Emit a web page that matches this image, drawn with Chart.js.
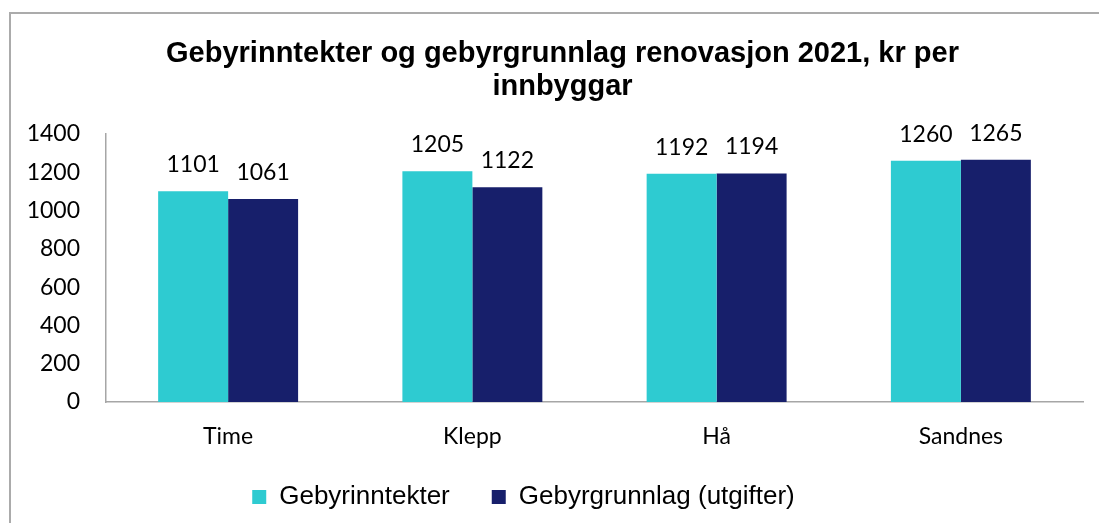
<!DOCTYPE html>
<html>
<head>
<meta charset="utf-8">
<script src="https://cdn.jsdelivr.net/npm/chart.js@4/dist/chart.umd.min.js"></script>
<style>
html,body{margin:0;padding:0;background:#fff;}
canvas{display:block;}
</style>
</head>
<body>
<canvas id="c" width="1099" height="523"></canvas>
<script>
const categories = ['Time', 'Klepp', 'Hå', 'Sandnes'];
const seriesNames = ['Gebyrinntekter', 'Gebyrgrunnlag (utgifter)'];
const gebyrinntekter = [1101, 1205, 1192, 1260];
const gebyrgrunnlag = [1061, 1122, 1194, 1265];
const titleLines = ['Gebyrinntekter og gebyrgrunnlag renovasjon 2021, kr per', 'innbyggar'];
const yMin = 0, yMax = 1400, yStep = 200;

const TEAL = '#2ECBD1';
const NAVY = '#171F6B';
const AXIS = '#A6A6A6';
const numFont = 'Lato, "Open Sans", sans-serif';
const arialFont = '"Liberation Sans", Arial, sans-serif';

const framePlugin = {
  id: 'frame',
  beforeDraw(chart) {
    const ctx = chart.ctx;
    ctx.save();
    ctx.fillStyle = '#fff';
    ctx.fillRect(0, 0, chart.width, chart.height);
    ctx.strokeStyle = '#ABABAB';
    ctx.lineWidth = 2;
    ctx.strokeRect(10, 13, 1200, 700);
    ctx.restore();
  },
  afterLayout(chart) {
    if (chart.legend) {
      chart.legend.left -= 18;
      chart.legend.right -= 18;
    }
    if (chart.titleBlock) {
      chart.titleBlock.left += 21;
      chart.titleBlock.right += 21;
    }
    if (chart.scales.x) {
      chart.scales.x.bottom = chart.height;
    }
  }
};

const valueLabels = {
  id: 'valueLabels',
  afterDatasetsDraw(chart) {
    const ctx = chart.ctx;
    ctx.save();
    ctx.font = '23px ' + numFont;
    ctx.fillStyle = '#000';
    ctx.textAlign = 'center';
    ctx.textBaseline = 'alphabetic';
    chart.data.datasets.forEach((ds, di) => {
      const meta = chart.getDatasetMeta(di);
      meta.data.forEach((el, i) => {
        ctx.fillText(String(ds.data[i]), el.x, el.y - 19);
      });
    });
    ctx.restore();
  }
};

new Chart(document.getElementById('c'), {
  type: 'bar',
  data: {
    labels: categories,
    datasets: [
      { label: seriesNames[0], data: gebyrinntekter, backgroundColor: TEAL, borderWidth: 0 },
      { label: seriesNames[1], data: gebyrgrunnlag, backgroundColor: NAVY, borderWidth: 0 }
    ]
  },
  options: {
    responsive: false,
    animation: false,
    devicePixelRatio: 1,
    categoryPercentage: 0.573,
    barPercentage: 1.0,
    layout: { padding: { left: 0, right: 16, top: 0, bottom: 3 } },
    plugins: {
      title: {
        display: true,
        text: titleLines,
        color: '#000',
        font: { family: arialFont, size: 29, weight: 'bold', lineHeight: 1.138 },
        padding: { top: 37, bottom: 31 }
      },
      legend: {
        display: true,
        position: 'bottom',
        labels: {
          color: '#000',
          font: { family: arialFont, size: 26 },
          boxWidth: 14,
          boxHeight: 14,
          padding: 42
        }
      },
      tooltip: { enabled: false }
    },
    scales: {
      x: {
        grid: { display: false, drawTicks: false },
        border: { display: true, color: AXIS, width: 1.5 },
        ticks: { color: '#000', font: { family: numFont, size: 23 }, padding: 21 },
        afterFit(scale) { scale.height = 40; }
      },
      y: {
        min: yMin,
        max: yMax,
        grid: { display: false, drawTicks: false },
        border: { display: true, color: AXIS, width: 1.5 },
        ticks: {
          stepSize: yStep,
          color: '#000',
          font: { family: numFont, size: 23 },
          padding: 26,
          callback: (v) => String(v)
        },
        afterFit(scale) { scale.width = 106; }
      }
    }
  },
  plugins: [framePlugin, valueLabels]
});
</script>
</body>
</html>
